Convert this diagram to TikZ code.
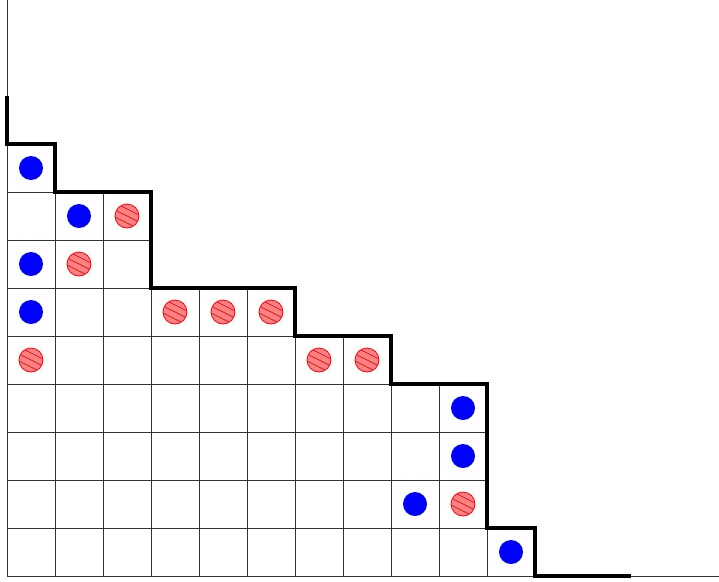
\documentclass[tikz,border=0pt]{standalone}
\begin{document}
\begin{tikzpicture}[x=1pt,y=-1pt,
  cell/.style={draw=black!80,line width=0.8pt},
  axisline/.style={draw=black!80,line width=0.9pt},
  bdot/.style={circle,fill=blue,inner sep=0pt,minimum size=24pt},
  rdot/.style={circle,fill=red!50,draw=red,line width=0.8pt,inner sep=0pt,minimum size=24pt},
  hatch/.style={draw=red!75!black,line width=0.6pt},
  stair/.style={line width=3.6pt,line join=miter}]
\useasboundingbox (0,0) rectangle (719,581);
% grid cells
\foreach \r/\n in {1/1,2/3,3/3,4/6,5/8,6/10,7/10,8/10,9/11}
  \foreach \c in {1,...,\n}
    \draw[cell] ({7+48*(\c-1)},{144+48*(\r-1)}) rectangle +(48,48);
% axes
\draw[axisline] (7,0) -- (7,576) -- (719,576);
% blue dots
\foreach \c/\r [count=\i] in {1/1,2/2,1/3,1/4,10/6,10/7,9/8,11/9}
  \node[bdot] (b\i) at ({48*\c-17},{48*\r+120}) {};
% red dots
\foreach \c/\r [count=\i] in {3/2,2/3,4/4,5/4,6/4,1/5,7/5,8/5,10/8}{
  \node[rdot] (r\i) at ({48*\c-17},{48*\r+120}) {};
  \begin{scope}
    \clip (r\i.center) circle (11.6);
    \foreach \o in {-7,0,7}
      \draw[hatch,shift={(r\i.center)}] (-16,{-8+\o}) -- (16,{8+\o});
  \end{scope}
}
% staircase
\draw[stair] (7,96) -- (7,144) -- (55,144) -- (55,192) -- (151,192) -- (151,288)
  -- (295,288) -- (295,336) -- (391,336) -- (391,384) -- (487,384) -- (487,528)
  -- (535,528) -- (535,576) -- (631,576);
\end{tikzpicture}
\end{document}
